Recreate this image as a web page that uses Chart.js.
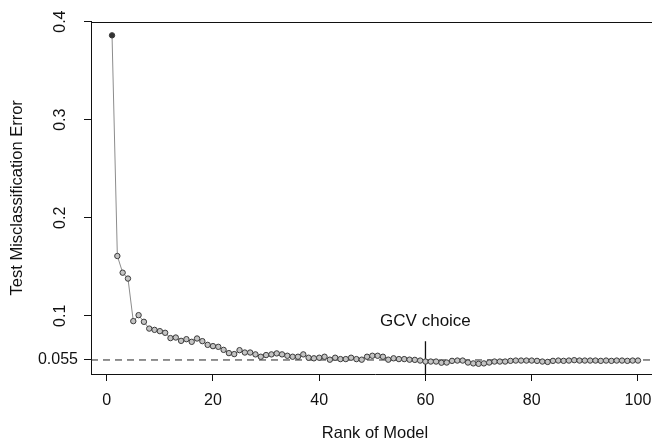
<!DOCTYPE html>
<html>
<head>
<meta charset="utf-8">
<script src="https://cdn.jsdelivr.net/npm/chart.js@4/dist/chart.umd.min.js"></script>
<style>
html, body { margin: 0; padding: 0; overflow: hidden; background: #fff; width: 652px; height: 443px; }
#wrap { width: 672px; height: 443px; }
</style>
</head>
<body>
<div id="wrap"><canvas id="c" width="672" height="443"></canvas></div>
<script>
const ranks = [1,2,3,4,5,6,7,8,9,10,11,12,13,14,15,16,17,18,19,20,
  21,22,23,24,25,26,27,28,29,30,31,32,33,34,35,36,37,38,39,40,
  41,42,43,44,45,46,47,48,49,50,51,52,53,54,55,56,57,58,59,60,
  61,62,63,64,65,66,67,68,69,70,71,72,73,74,75,76,77,78,79,80,
  81,82,83,84,85,86,87,88,89,90,91,92,93,94,95,96,97,98,99,100];

const errorRates = [
  0.386, 0.161, 0.144, 0.138, 0.0946, 0.1007, 0.0939, 0.087, 0.0857, 0.0844,
  0.0827, 0.0773, 0.0779, 0.0745, 0.0762, 0.0735, 0.0769, 0.0742, 0.0704, 0.0691,
  0.0684, 0.0653, 0.062, 0.061, 0.065, 0.0626, 0.0626, 0.0607, 0.0583, 0.06,
  0.0607, 0.0617, 0.0607, 0.0593, 0.0583, 0.0583, 0.0607, 0.0573, 0.0567, 0.0573,
  0.0583, 0.0553, 0.0573, 0.0559, 0.0559, 0.0573, 0.0559, 0.0553, 0.0583, 0.0593,
  0.0593, 0.0583, 0.0553, 0.0567, 0.0559, 0.0559, 0.0553, 0.0551, 0.0544, 0.0534,
  0.0534, 0.0534, 0.0522, 0.0524, 0.0541, 0.0544, 0.0544, 0.0524, 0.0515, 0.0511,
  0.0515, 0.0524, 0.0534, 0.0534, 0.0534, 0.0541, 0.0544, 0.0544, 0.0544, 0.0544,
  0.0541, 0.0534, 0.053, 0.0541, 0.0544, 0.0541, 0.0544, 0.0548, 0.0544, 0.0544,
  0.0544, 0.0544, 0.0541, 0.0544, 0.0541, 0.0544, 0.0544, 0.0541, 0.0544, 0.0544
];

const xTicks = [0, 20, 40, 60, 80, 100];
const yTicks = [0.055, 0.1, 0.2, 0.3, 0.4];
const referenceLevel = 0.055;
const gcvChoice = 60;
const gcvLineTop = 0.074;
const gcvLabelLevel = 0.0898;
const xRange = [-2.96, 103.96];
const yRange = [0.0407, 0.4];

const FAMILY = '"Liberation Sans", Arial, Helvetica, sans-serif';
const INK = '#111';

const extras = {
  id: 'extras',
  afterDraw(chart) {
    const { ctx, chartArea: a, scales: { x, y } } = chart;
    ctx.save();
    ctx.strokeStyle = INK;
    ctx.lineWidth = 1;
    ctx.beginPath();
    const ty = Math.round(a.top) + 0.5;
    ctx.moveTo(a.left, ty);
    ctx.lineTo(a.right, ty);
    ctx.stroke();
    ctx.fillStyle = INK;
    ctx.font = '16px ' + FAMILY;
    ctx.textAlign = 'right';
    ctx.textBaseline = 'middle';
    ctx.fillText('0.055', a.left - 13, y.getPixelForValue(referenceLevel));
    ctx.font = '17px ' + FAMILY;
    ctx.textAlign = 'center';
    ctx.textBaseline = 'alphabetic';
    ctx.fillText('GCV choice', x.getPixelForValue(gcvChoice), y.getPixelForValue(gcvLabelLevel));
    ctx.restore();
  }
};

new Chart(document.getElementById('c'), {
  type: 'scatter',
  data: {
    datasets: [
      {
        label: 'Test Misclassification Error',
        data: ranks.map((r, i) => ({ x: r, y: errorRates[i] })),
        showLine: true,
        borderColor: '#8c8c8c',
        borderWidth: 1,
        pointRadius: 2.7,
        pointBackgroundColor: c => c.dataIndex === 0 ? '#333' : '#c4c4c4',
        pointBorderColor: '#3a3a3a',
        pointBorderWidth: 1,
        order: 0
      },
      {
        label: 'reference',
        data: [{ x: xRange[0], y: referenceLevel }, { x: xRange[1], y: referenceLevel }],
        showLine: true,
        borderColor: '#222',
        borderWidth: 1,
        borderDash: [7, 5],
        pointRadius: 0,
        order: 2
      },
      {
        label: 'GCV choice',
        data: [{ x: gcvChoice, y: yRange[0] }, { x: gcvChoice, y: gcvLineTop }],
        showLine: true,
        borderColor: INK,
        borderWidth: 1.3,
        pointRadius: 0,
        order: 1
      }
    ]
  },
  options: {
    responsive: false,
    animation: false,
    events: [],
    layout: { padding: { top: 21, right: 13, bottom: 0, left: 0 } },
    plugins: { legend: { display: false }, tooltip: { enabled: false } },
    scales: {
      x: {
        type: 'linear',
        min: xRange[0],
        max: xRange[1],
        afterBuildTicks: s => { s.ticks = xTicks.map(v => ({ value: v })); },
        afterFit: s => { s.height = 69; },
        ticks: { padding: 10, maxRotation: 0, autoSkip: false, color: INK, font: { size: 16, family: FAMILY } },
        grid: { display: true, drawOnChartArea: false, drawTicks: true, tickLength: 7, color: INK },
        border: { display: true, color: INK, width: 1 },
        title: { display: true, text: 'Rank of Model', color: INK, font: { size: 16.5, family: FAMILY }, padding: { top: 0, bottom: 0 } }
      },
      y: {
        type: 'linear',
        min: yRange[0],
        max: yRange[1],
        afterBuildTicks: s => { s.ticks = yTicks.map(v => ({ value: v })); },
        afterFit: s => { s.width = 91; },
        ticks: {
          callback: v => (v === referenceLevel ? '' : String(v)),
          minRotation: 90, maxRotation: 90, crossAlign: 'center', padding: 12,
          color: INK, font: { size: 16, family: FAMILY }
        },
        grid: { display: true, drawOnChartArea: false, drawTicks: true, tickLength: 7, color: INK },
        border: { display: true, color: INK, width: 1 },
        title: { display: true, text: 'Test Misclassification Error', color: INK, font: { size: 16.5, family: FAMILY }, padding: { top: 8, bottom: 0 } }
      }
    }
  },
  plugins: [extras]
});
</script>
</body>
</html>
